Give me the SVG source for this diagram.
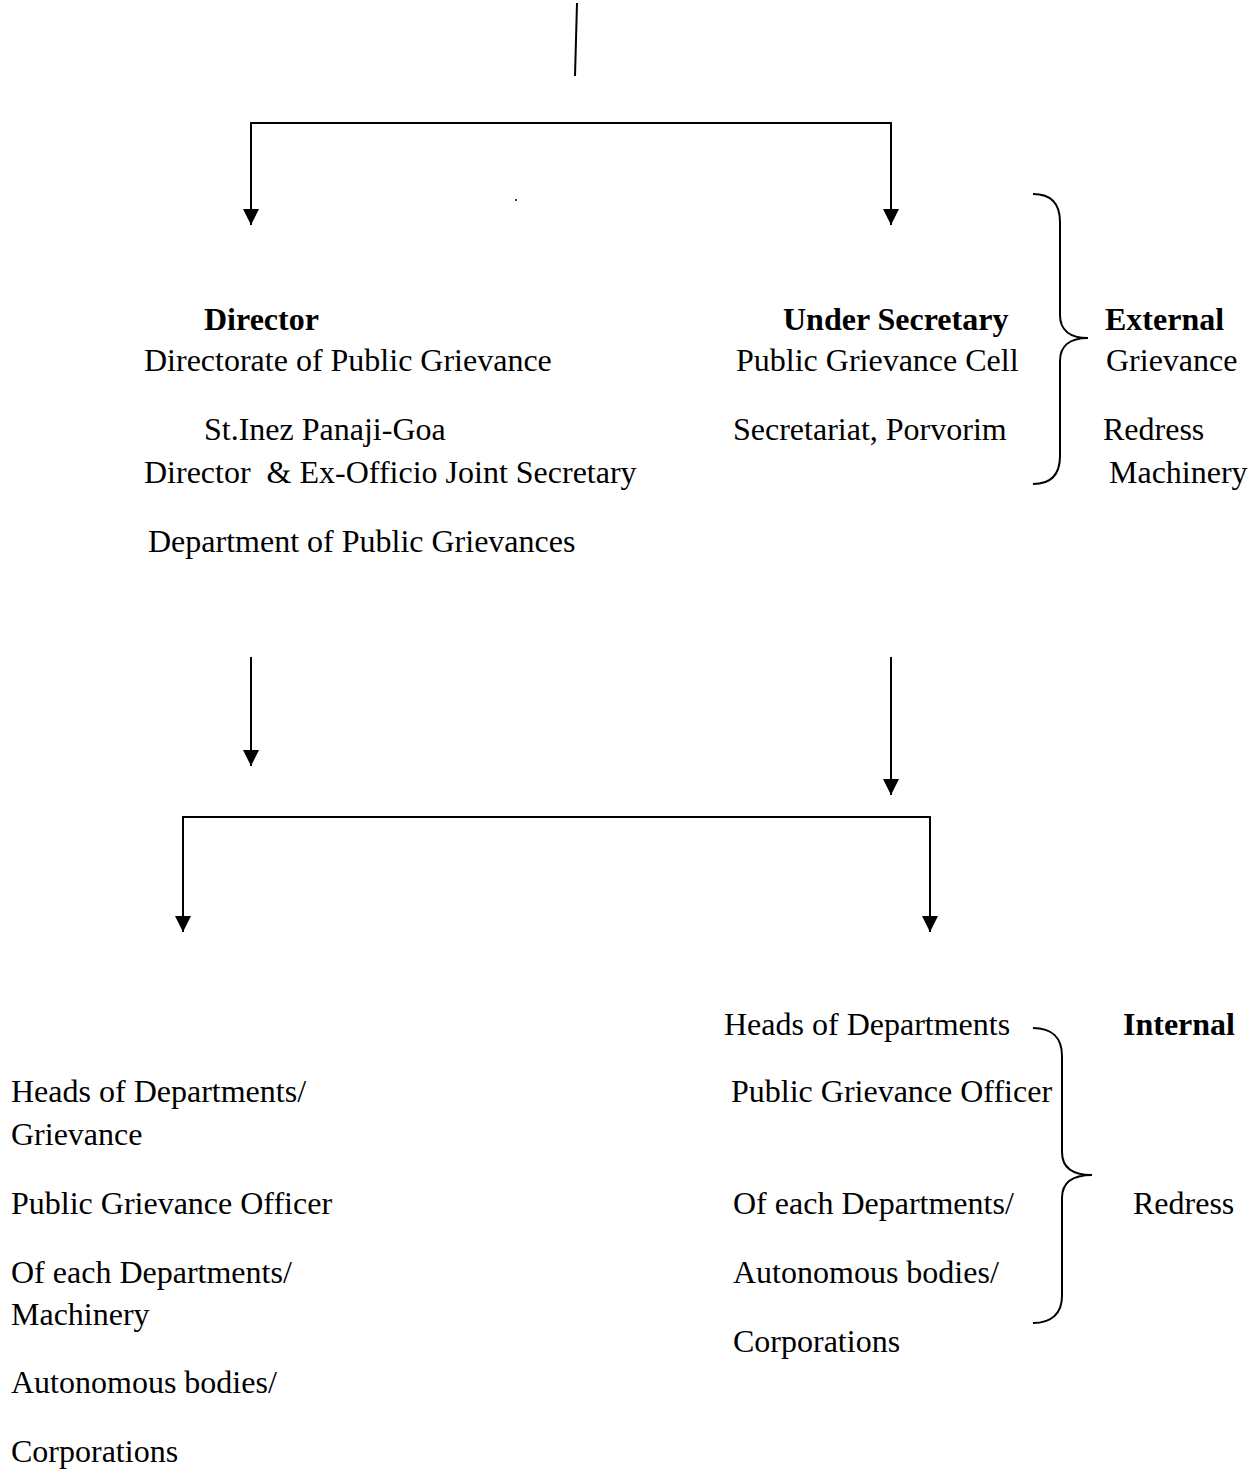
<svg xmlns="http://www.w3.org/2000/svg" width="1257" height="1473" viewBox="0 0 1257 1473">
<defs>
<marker id="arr" markerUnits="userSpaceOnUse" markerWidth="16" markerHeight="18" viewBox="0 0 16 18" refX="16" refY="8" orient="auto">
<path d="M0,0 L16,8 L0,16 Z" fill="#000"/>
</marker>
<style>
text{font-family:"Liberation Serif","Times New Roman",serif;font-size:32px;fill:#000}
.b{font-weight:bold}
.ln{fill:none;stroke:#000;stroke-width:2}
.br{fill:none;stroke:#000;stroke-width:2}
</style>
</defs>
<rect width="1257" height="1473" fill="#fff"/>
<g id="connectors">
<path class="ln" d="M577,3 L575,76"/>
<path class="ln" d="M571,123 H251 V225" marker-end="url(#arr)"/>
<path class="ln" d="M571,123 H891 V225" marker-end="url(#arr)"/>
<circle cx="516" cy="200" r="1" fill="#000"/>
<path class="ln" d="M251,657 V766" marker-end="url(#arr)"/>
<path class="ln" d="M891,657 V795" marker-end="url(#arr)"/>
<path class="ln" d="M557,817 H183 V932" marker-end="url(#arr)"/>
<path class="ln" d="M557,817 H930 V932" marker-end="url(#arr)"/>
<path class="br" d="M1033,194 C1052,194 1060,205 1060,222 L1060,315 C1060,330 1070,338 1088,338 C1070,338 1060,346 1060,361 L1060,456 C1060,473 1052,484 1033,484"/>
<path class="br" d="M1033,1028 C1052,1028 1062,1038 1062,1056 L1062,1152 C1062,1167 1072,1175 1092,1175 C1072,1175 1062,1183 1062,1198 L1062,1296 C1062,1313 1052,1323 1033,1323"/>
</g>
<g id="director">
<text class="b" x="204" y="330">Director</text>
<text x="144" y="371">Directorate of Public Grievance</text>
<text x="204" y="440">St.Inez Panaji-Goa</text>
<text x="144" y="483" xml:space="preserve">Director  &amp; Ex-Officio Joint Secretary</text>
<text x="148" y="552">Department of Public Grievances</text>
</g>
<g id="under-secretary">
<text class="b" x="783" y="330">Under Secretary</text>
<text x="736" y="371">Public Grievance Cell</text>
<text x="733" y="440">Secretariat, Porvorim</text>
</g>
<g id="external">
<text class="b" x="1105" y="330">External</text>
<text x="1106" y="371">Grievance</text>
<text x="1103" y="440">Redress</text>
<text x="1109" y="483">Machinery</text>
</g>
<g id="left-hods">
<text x="11" y="1102">Heads of Departments/</text>
<text x="11" y="1145">Grievance</text>
<text x="11" y="1214">Public Grievance Officer</text>
<text x="11" y="1283">Of each Departments/</text>
<text x="11" y="1325">Machinery</text>
<text x="11" y="1393">Autonomous bodies/</text>
<text x="11" y="1462">Corporations</text>
</g>
<g id="right-hods">
<text x="724" y="1035">Heads of Departments</text>
<text x="731" y="1102">Public Grievance Officer</text>
<text x="733" y="1214">Of each Departments/</text>
<text x="733" y="1283">Autonomous bodies/</text>
<text x="733" y="1352">Corporations</text>
</g>
<g id="internal">
<text class="b" x="1123" y="1035">Internal</text>
<text x="1133" y="1214">Redress</text>
</g>
</svg>
